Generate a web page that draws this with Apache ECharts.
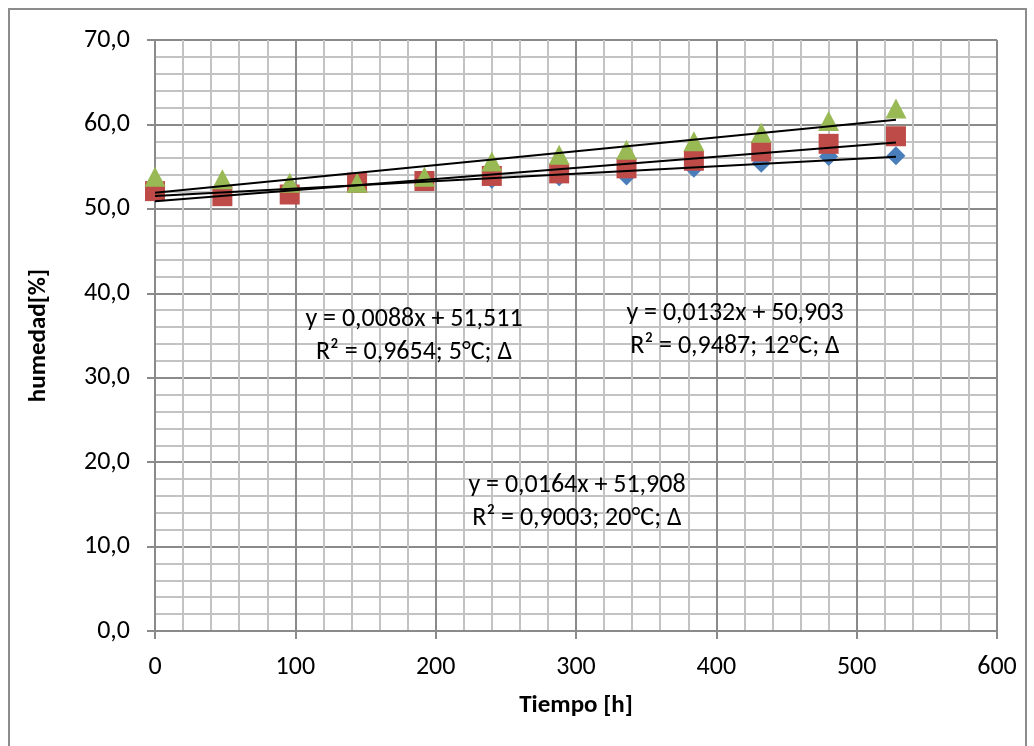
<!DOCTYPE html>
<html>
<head>
<meta charset="utf-8">
<title>humedad vs Tiempo</title>
<script src="https://cdn.jsdelivr.net/npm/echarts@6/dist/echarts.min.js"></script>
<style>
  html, body { margin: 0; padding: 0; background: #ffffff; }
  #chart { width: 1034px; height: 746px; }
</style>
</head>
<body>
<div id="chart"></div>
<script>
// Sampling times [h]
const tiempo = [0, 48, 96, 144, 192, 240, 288, 336, 384, 432, 480, 528];

// Measured humidity [%] per storage temperature
const humedad5C  = [51.9, 51.5, 52.0, 53.0, 53.2, 53.5, 53.8, 53.9, 54.8, 55.4, 56.2, 56.3];
const humedad12C = [52.1, 51.5, 51.7, 53.1, 53.3, 53.9, 54.2, 54.8, 55.7, 56.8, 57.7, 58.6];
const humedad20C = [53.8, 53.5, 53.1, 53.1, 53.8, 55.6, 56.4, 57.0, 58.0, 59.0, 60.4, 61.9];

// Linear trend coefficients [slope, intercept] and R²
const trend5C  = [0.0088, 51.511];
const trend12C = [0.0132, 50.903];
const trend20C = [0.0164, 51.908];
const r2 = [0.9654, 0.9487, 0.9003];
const tempLabels = ['5°C', '12°C', '20°C'];

// Axis ranges
const xAxisRange = [0, 600];
const yAxisRange = [0, 70];

const FONT = "'Carlito', 'Liberation Sans', Arial, sans-serif";

const comma = (v, d) => v.toFixed(d).replace('.', ',');

function pairs(xs, ys) { return xs.map((x, i) => [x, ys[i]]); }

// Trend line drawn across the measured time span
function trendLine(coef) {
  const x0 = tiempo[0], x1 = tiempo[tiempo.length - 1];
  return [[x0, coef[1] + coef[0] * x0], [x1, coef[1] + coef[0] * x1]];
}

function eqText(coef, r, t) {
  return 'y = ' + comma(coef[0], 4) + 'x + ' + comma(coef[1], 3) +
         '\nR² = ' + comma(r, 4) + '; ' + t + '; Δ';
}

const chart = echarts.init(document.getElementById('chart'), null, { renderer: 'canvas' });

const gridStyle = (color) => ({ show: true, lineStyle: { color: color, width: 2 } });

const trendSeries = (coef) => ({
  type: 'line',
  data: trendLine(coef),
  symbol: 'none',
  lineStyle: { color: '#000000', width: 2 },
  z: 10,
  silent: true,
  animation: false
});

// Equation / R² annotation centred on (cx, cy)
const annotation = (cx, cy, text) => ({
  type: 'text',
  x: cx,
  y: cy,
  z: 20,
  style: {
    text: text,
    fill: '#000000',
    font: '26px ' + FONT,
    align: 'center',
    verticalAlign: 'middle',
    lineHeight: 33
  }
});

chart.setOption({
  animation: false,
  backgroundColor: '#ffffff',
  grid: { left: 155, top: 40, right: 37, bottom: 115 },
  xAxis: {
    type: 'value',
    min: xAxisRange[0],
    max: xAxisRange[1],
    interval: 100,
    name: 'Tiempo [h]',
    nameLocation: 'middle',
    nameGap: 62,
    nameMoveOverlap: false,
    nameTextStyle: { fontFamily: FONT, fontSize: 25, fontWeight: 'bold', color: '#000' },
    axisLine: { show: true, onZero: false, lineStyle: { color: '#8a8a8a', width: 2 } },
    axisTick: { show: true, length: 8, inside: false, lineStyle: { color: '#8a8a8a', width: 2 } },
    axisLabel: { fontFamily: FONT, fontSize: 26, color: '#000', margin: 23 },
    splitLine: gridStyle('#8a8a8a'),
    minorTick: { show: false, splitNumber: 5 },
    minorSplitLine: gridStyle('#c3c3c3')
  },
  yAxis: {
    type: 'value',
    min: yAxisRange[0],
    max: yAxisRange[1],
    interval: 10,
    name: 'humedad[%]',
    nameLocation: 'middle',
    nameGap: 104,
    nameMoveOverlap: false,
    nameTextStyle: { fontFamily: FONT, fontSize: 25, fontWeight: 'bold', color: '#000' },
    axisLine: { show: true, lineStyle: { color: '#8a8a8a', width: 2 } },
    axisTick: { show: true, length: 8, lineStyle: { color: '#8a8a8a', width: 2 } },
    axisLabel: {
      fontFamily: FONT, fontSize: 26, color: '#000', margin: 25,
      formatter: (v) => comma(v, 1)
    },
    splitLine: gridStyle('#8a8a8a'),
    minorTick: { show: false, splitNumber: 5 },
    minorSplitLine: gridStyle('#c3c3c3')
  },
  series: [
    {
      name: '5°C', type: 'scatter', data: pairs(tiempo, humedad5C),
      symbol: 'diamond', symbolSize: [19, 19],
      itemStyle: { color: '#4a7ebb', opacity: 1 }, z: 3
    },
    {
      name: '12°C', type: 'scatter', data: pairs(tiempo, humedad12C),
      symbol: 'rect', symbolSize: [20, 20],
      itemStyle: { color: '#be4b48', opacity: 1 }, z: 4
    },
    {
      name: '20°C', type: 'scatter', data: pairs(tiempo, humedad20C),
      symbol: 'triangle', symbolSize: [21, 20],
      itemStyle: { color: '#98b954', opacity: 1 }, z: 5
    },
    trendSeries(trend5C),
    trendSeries(trend12C),
    trendSeries(trend20C)
  ],
  graphic: [
    {
      type: 'rect',
      shape: { x: 9, y: 9, width: 1017, height: 760 },
      style: { fill: null, stroke: '#8c8c8c', lineWidth: 2 },
      silent: true, z: -1
    },
    annotation(414, 336, eqText(trend5C, r2[0], tempLabels[0])),
    annotation(735, 330, eqText(trend12C, r2[1], tempLabels[1])),
    annotation(577, 502, eqText(trend20C, r2[2], tempLabels[2]))
  ]
});
</script>
</body>
</html>
